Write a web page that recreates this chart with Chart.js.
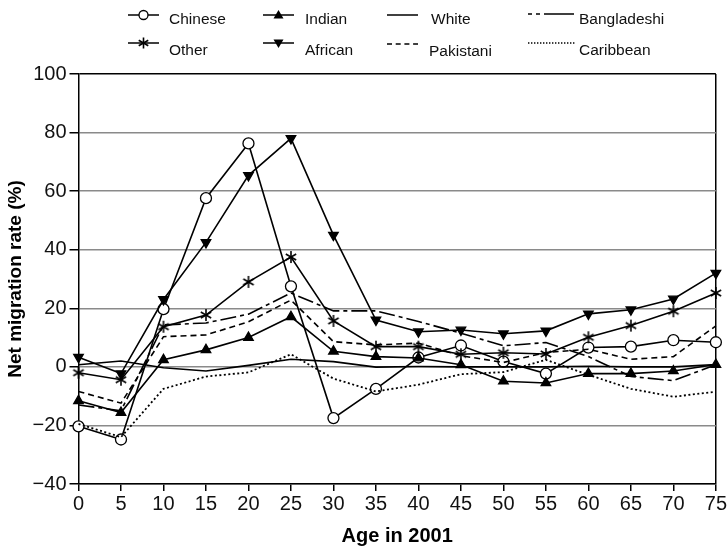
<!DOCTYPE html>
<html><head><meta charset="utf-8">
<script src="https://cdn.jsdelivr.net/npm/chart.js@4"></script>
<style>
html,body{margin:0;padding:0;background:#fff}
#wrap{position:relative;width:728px;height:549px}
#c{position:absolute;left:0;top:0}
#leg{position:absolute;left:0;top:0}
</style>
</head><body>
<div id="wrap"><canvas id="c" width="728" height="549"></canvas><svg id="leg" width="728" height="66" xmlns="http://www.w3.org/2000/svg"></svg></div>
<script>
const ages = [0,5,10,15,20,25,30,35,40,45,50,55,60,65,70,75];
const chinese    = [-20.3,-24.8,19.7,57.6,76.3,27.5,-17.5,-7.5,3.2,7.3,1.8,-2.3,6.6,6.9,9.1,8.4];
const indian     = [-11.6,-15.6,2.4,5.8,10,17.1,5.3,3.5,3,0.7,-4.9,-5.5,-2.3,-2.3,-1.4,0.8];
const white      = [0.7,2,-0.3,-1.4,0.5,2.6,1.8,-0.1,0.1,0,0,0,0.2,0,0,0.8];
const bangladeshi= [-13,-15,14.3,15,18,25.2,19.1,19.1,15.5,11.5,7.2,8.3,3.5,-3.3,-4.7,0.7];
const other      = [-2,-4.4,13.7,17.7,29,37.5,15.7,6.9,6.9,4.3,4.8,4.4,10.1,14.1,19,25.2];
const african    = [3.3,-2.3,23,42.5,65.4,78,45,16,12,12.6,11.3,12.3,18.1,19.5,23.2,32];
const pakistani  = [-8.4,-12.4,10.3,10.9,15.4,22.8,8.6,7.5,8.1,3.8,1.5,4.9,6,2.6,3.5,14];
const caribbean  = [-19.5,-24,-7.5,-3.3,-1.9,4.3,-4,-8.4,-6.1,-2.5,-1.8,2.4,-2.7,-7.5,-10.2,-8.5];
const yTicks = [-40,-20,0,20,40,60,80,100];
const xTitle = 'Age in 2001';
const yTitle = 'Net migration rate (%)';

const FONT = '"Liberation Sans", Arial, Helvetica, sans-serif';

function makeStar(){
  const c=document.createElement('canvas');c.width=14;c.height=14;
  const g=c.getContext('2d');g.strokeStyle='#000';g.lineWidth=1.6;g.translate(7,7);
  for(let i=0;i<3;i++){const a=Math.PI/2+i*Math.PI/3;g.beginPath();
    g.moveTo(Math.cos(a)*6,Math.sin(a)*6);g.lineTo(-Math.cos(a)*6,-Math.sin(a)*6);g.stroke();}
  return c;
}
const starImg = makeStar();

function pts(arr){return ages.map((a,i)=>({x:a,y:arr[i]}));}
function ds(label,arr,extra){
  return Object.assign({label,data:pts(arr),borderColor:'#000',borderWidth:1.6,
    pointRadius:0,pointBorderColor:'#000',pointBackgroundColor:'#000',pointBorderWidth:1.3,
    tension:0,clip:false,fill:false},extra);
}

new Chart(document.getElementById('c'),{
  type:'line',
  data:{datasets:[
    ds('Caribbean',caribbean,{borderDash:[2,2.5],borderWidth:1.8}),
    ds('Pakistani',pakistani,{borderDash:[6,4]}),
    ds('Bangladeshi',bangladeshi,{borderDash:[16,4,4,4]}),
    ds('White',white,{}),
    ds('Indian',indian,{pointStyle:'triangle',pointRadius:5.5}),
    ds('Other',other,{pointStyle:starImg,pointRadius:6}),
    ds('African',african,{pointStyle:'triangle',pointRotation:180,pointRadius:5.5}),
    ds('Chinese',chinese,{pointStyle:'circle',pointRadius:5.5,pointBackgroundColor:'#fff'})
  ]},
  options:{
    responsive:false,animation:false,
    layout:{padding:{top:74,right:12,left:0,bottom:0}},
    plugins:{legend:{display:false},tooltip:{enabled:false}},
    scales:{
      x:{type:'linear',min:0,max:75,
        afterFit(s){s.height=65;},
        ticks:{stepSize:5,font:{family:FONT,size:20},color:'#111',padding:1,maxRotation:0},
        grid:{color:c=>c.tick&&c.tick.value===75?'#000':'rgba(0,0,0,0)',tickColor:'#000',tickLength:7,lineWidth:1.5},
        border:{color:'#000',width:1.5},
        title:{display:true,text:xTitle,font:{family:FONT,size:20,weight:'bold'},color:'#000',padding:{top:0,bottom:1}}
      },
      y:{min:-40,max:100,
        afterFit(s){s.width=78.5;},
        afterBuildTicks(s){s.ticks=yTicks.map(v=>({value:v}));},
        ticks:{font:{family:FONT,size:20},color:'#111',padding:3,
          callback:v=>v<0?'\u2212'+Math.abs(v):String(v)},
        grid:{color:c=>c.tick&&c.tick.value===100?'#000':'#8a8a8a',tickColor:'#000',tickLength:9,lineWidth:1.5},
        border:{color:'#000',width:1.5},
        title:{display:true,text:yTitle,font:{family:FONT,size:19,weight:'bold'},color:'#000',padding:{top:4,bottom:4}}
      }
    }
  }
});

// legend (SVG, real text)
const NS='http://www.w3.org/2000/svg';
const svg=document.getElementById('leg');
function el(t,a){const e=document.createElementNS(NS,t);for(const k in a)e.setAttribute(k,a[k]);svg.appendChild(e);return e;}
function text(x,y,s){const t=el('text',{x,y,'font-family':FONT,'font-size':'15.5',fill:'#111'});t.textContent=s;}
const legendItems=[
  {label:'Chinese',x1:128,x2:159,ly:15,tx:169,ty:24,marker:'circle'},
  {label:'Indian',x1:263,x2:294,ly:15,tx:305,ty:24,marker:'up'},
  {label:'White',x1:387,x2:418,ly:15,tx:431,ty:24},
  {label:'Bangladeshi',x1:528,x2:574,ly:14,tx:579,ty:24,dash:'4,4,4,4,40'},
  {label:'Other',x1:128,x2:159,ly:43,tx:169,ty:55,marker:'star'},
  {label:'African',x1:263,x2:294,ly:43,tx:305,ty:55,marker:'down'},
  {label:'Pakistani',x1:387,x2:418,ly:44,tx:429,ty:56,dash:'5,3.7'},
  {label:'Caribbean',x1:528,x2:575,ly:43,tx:579,ty:55,dash:'1.4,1.6'}
];
legendItems.forEach(it=>{
  const a={x1:it.x1,y1:it.ly,x2:it.x2,y2:it.ly,stroke:'#000','stroke-width':it.dash==='1.4,1.6'?1.4:1.5};
  if(it.dash)a['stroke-dasharray']=it.dash;
  el('line',a);
  const cx=(it.x1+it.x2)/2, cy=it.ly;
  if(it.marker==='circle')el('circle',{cx,cy,r:4.5,fill:'#fff',stroke:'#000','stroke-width':1.3});
  if(it.marker==='up')el('polygon',{points:`${cx-5},${cy+3.5} ${cx+5},${cy+3.5} ${cx},${cy-5}`,fill:'#000'});
  if(it.marker==='down')el('polygon',{points:`${cx-5},${cy-3.5} ${cx+5},${cy-3.5} ${cx},${cy+5}`,fill:'#000'});
  if(it.marker==='star'){for(let i=0;i<3;i++){const an=Math.PI/2+i*Math.PI/3;
    el('line',{x1:cx+Math.cos(an)*5.5,y1:cy+Math.sin(an)*5.5,x2:cx-Math.cos(an)*5.5,y2:cy-Math.sin(an)*5.5,stroke:'#000','stroke-width':1.6});}}
  text(it.tx,it.ty,it.label);
});
</script>
</body></html>
